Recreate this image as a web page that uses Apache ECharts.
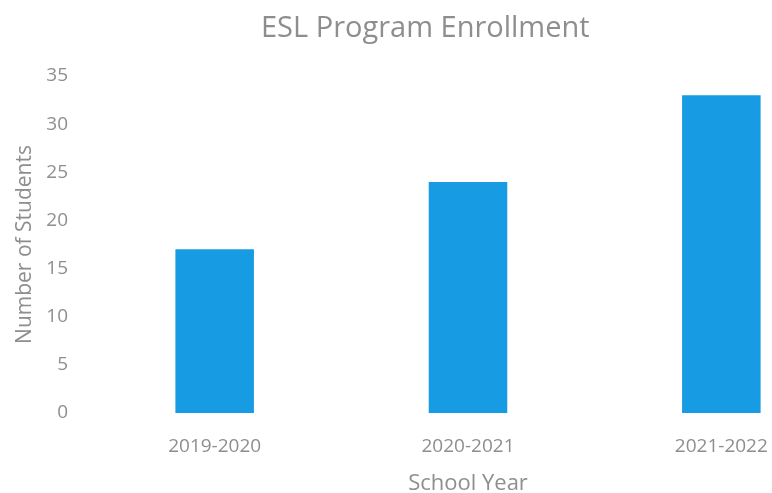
<!DOCTYPE html>
<html>
<head>
<meta charset="utf-8">
<script src="https://cdn.jsdelivr.net/npm/echarts@6/dist/echarts.min.js"></script>
<style>
  html, body { margin: 0; padding: 0; background: #ffffff; overflow: hidden; }
  #frame { width: 772px; height: 493px; overflow: hidden; }
  /* plot runs past the right edge of the frame, so the last bar sits near it */
  #chart { width: 848px; height: 493px; }
</style>
</head>
<body>
<div id="frame"><div id="chart"></div></div>
<script>
// Enrollment per school year
const schoolYears = ['2019-2020', '2020-2021', '2021-2022'];
const students = [17, 24, 33];

const textColor = '#8e8e8e';
const fontFamily = '"Open Sans", sans-serif';

const chart = echarts.init(document.getElementById('chart'));
chart.setOption({
  animation: false,
  title: {
    text: 'ESL Program Enrollment',
    left: 256,
    top: 9,
    textStyle: { color: textColor, fontSize: 29, fontWeight: 'normal', fontFamily: fontFamily }
  },
  grid: { left: 88, right: 0, top: 76, bottom: 80, containLabel: false, outerBoundsMode: 'none' },
  xAxis: {
    type: 'category',
    data: schoolYears,
    axisLine: { show: false },
    axisTick: { show: false },
    axisLabel: { color: textColor, fontSize: 19, fontFamily: fontFamily, margin: 24 },
    name: 'School Year',
    nameLocation: 'middle',
    nameGap: 60,
    nameTextStyle: { color: textColor, fontSize: 22, fontFamily: fontFamily }
  },
  yAxis: {
    type: 'value',
    min: 0,
    max: 35,
    interval: 5,
    splitLine: { show: false },
    axisLine: { show: false },
    axisTick: { show: false },
    axisLabel: { color: textColor, fontSize: 19, fontFamily: fontFamily, margin: 20 },
    name: 'Number of Students',
    nameLocation: 'middle',
    nameGap: 52,
    nameTextStyle: { color: textColor, fontSize: 21, fontFamily: fontFamily }
  },
  series: [{
    type: 'bar',
    data: students,
    barWidth: '31%',
    itemStyle: { color: '#179be2' }
  }]
});
</script>
</body>
</html>
